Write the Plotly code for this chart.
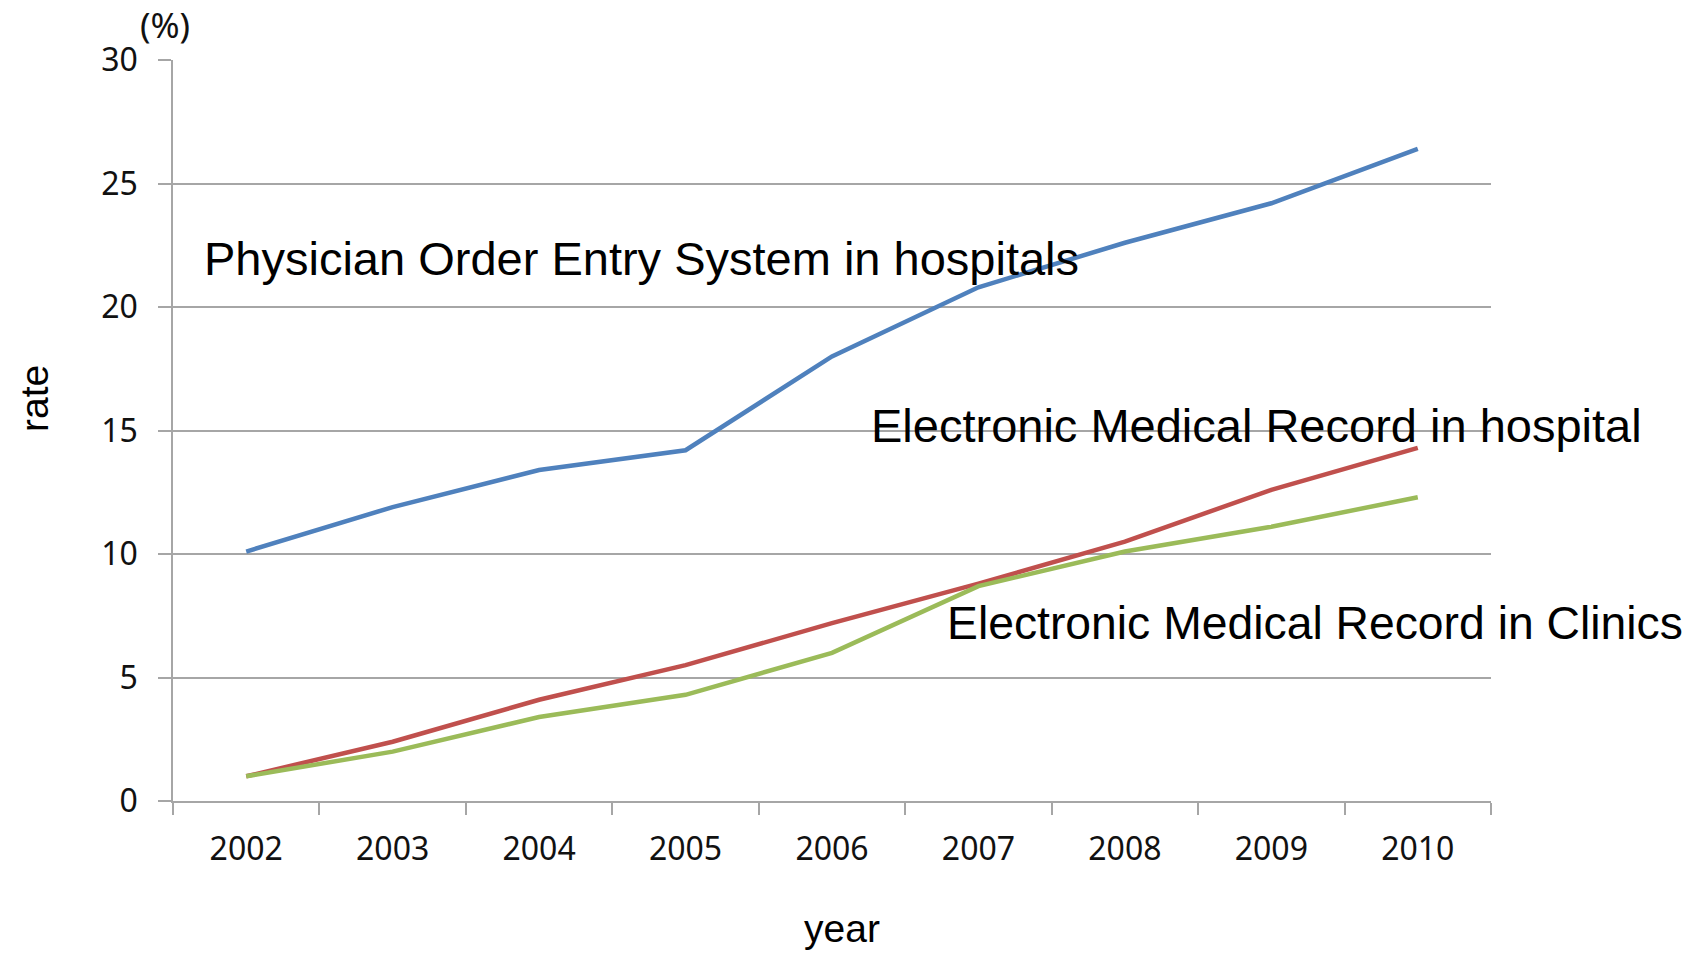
import plotly.graph_objects as go

years = ["2002", "2003", "2004", "2005", "2006", "2007", "2008", "2009", "2010"]
poe_hospitals = [10.1, 11.9, 13.4, 14.2, 18.0, 20.8, 22.6, 24.2, 26.4]
emr_hospital = [1.0, 2.4, 4.1, 5.5, 7.2, 8.8, 10.5, 12.6, 14.3]
emr_clinics = [1.0, 2.0, 3.4, 4.3, 6.0, 8.7, 10.1, 11.1, 12.3]

series_names = [
    "Physician Order Entry System in hospitals",
    "Electronic Medical Record in hospital",
    "Electronic Medical Record in Clinics",
]
colors = ["#4F81BD", "#C0504D", "#9BBB59"]

grid_col = "#A6A6A6"
tick_font = dict(family="Noto Sans, Open Sans, sans-serif", size=32, color="#111111")
label_font = dict(family="Liberation Sans, Arial, sans-serif", size=47, color="#000000")
label_font_small = dict(family="Liberation Sans, Arial, sans-serif", size=46.3, color="#000000")
title_font = dict(family="Liberation Sans, Arial, sans-serif", size=39, color="#000000")

fig = go.Figure()
for name, vals, col in zip(series_names, [poe_hospitals, emr_hospital, emr_clinics], colors):
    fig.add_trace(go.Scatter(x=years, y=vals, mode="lines", name=name,
                             line=dict(color=col, width=4.5), showlegend=False))

# in-chart series labels
fig.add_annotation(x=-0.3, y=21.95, xref="x", yref="y", text=series_names[0],
                   showarrow=False, xanchor="left", yanchor="middle", font=label_font)
fig.add_annotation(x=4.25, y=15.2, xref="x", yref="y", text=series_names[1],
                   showarrow=False, xanchor="left", yanchor="middle", font=label_font)
fig.add_annotation(x=4.77, y=7.2, xref="x", yref="y", text=series_names[2],
                   showarrow=False, xanchor="left", yanchor="middle", font=label_font_small)

# axis titles
W, H = 1697, 953
fig.add_annotation(x=34 / W, y=1 - 399 / H, xref="paper", yref="paper", text="rate",
                   textangle=-90, showarrow=False, xanchor="center", yanchor="middle",
                   font=title_font)
fig.add_annotation(x=842 / W, y=1 - 928 / H, xref="paper", yref="paper", text="year",
                   showarrow=False, xanchor="center", yanchor="middle", font=title_font)
fig.add_annotation(x=165 / W, y=1 - 25 / H, xref="paper", yref="paper", text="(%)",
                   showarrow=False, xanchor="center", yanchor="middle",
                   font=dict(family="Noto Sans, sans-serif", size=35, color="#111111"))

fig.update_layout(
    width=W, height=H,
    margin=dict(l=173, r=206, t=60, b=152),
    paper_bgcolor="white", plot_bgcolor="white",
    xaxis=dict(type="category", range=[-0.5, 8.5], tickson="boundaries",
               ticks="outside", ticklen=12, tickwidth=1.5, tickcolor=grid_col,
               showline=True, linecolor=grid_col, linewidth=1.5,
               showgrid=False, zeroline=False, tickfont=tick_font,
               ticklabelstandoff=19),
    yaxis=dict(range=[0, 30], dtick=5, ticks="outside", ticklen=13, tickwidth=1.5,
               tickcolor=grid_col, showline=True, linecolor=grid_col, linewidth=1.5,
               showgrid=True, gridcolor=grid_col, gridwidth=1.5, zeroline=False,
               tickfont=tick_font, ticklabelstandoff=14),
)

# convert figure-pixel placed title annotations into plot-area paper fractions
pl, pr, pt, pb = 173, 206, 60, 152
pw, ph = W - pl - pr, H - pt - pb
for ann in fig.layout.annotations:
    if ann.xref == "paper":
        fx, fy = ann.x * W, (1 - ann.y) * H
        ann.x = (fx - pl) / pw
        ann.y = 1 - (fy - pt) / ph

fig.write_html("out.html")
